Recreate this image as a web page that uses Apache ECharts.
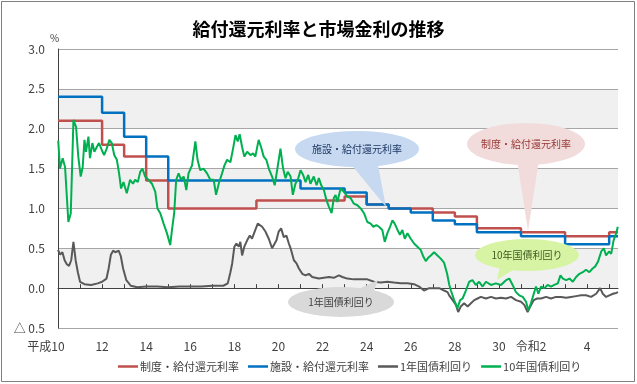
<!DOCTYPE html>
<html><head><meta charset="utf-8">
<script src="https://cdn.jsdelivr.net/npm/echarts@6/dist/echarts.min.js"></script>
<style>html,body{margin:0;padding:0;background:#fff}#c{width:637px;height:384px}</style>
</head><body><div id="c"></div>
<script>
// Fiscal years (平成) at which the rates are reset
const fiscalYears = [10,11,12,13,14,15,16,17,18,19,20,21,22,23,24,25,26,27,28,29,30,31,32,33,34,35];
const seidoRate  = [2.1,2.1,1.8,1.65,1.35,1.0,1.0,1.0,1.0,1.1,1.1,1.1,1.1,1.15,1.05,1.0,1.0,0.95,0.9,0.75,0.75,0.7,0.7,0.65,0.65,0.7];
const shisetsuRate = [2.4,2.4,2.2,1.9,1.65,1.35,1.35,1.35,1.35,1.35,1.35,1.25,1.25,1.2,1.05,1.0,0.95,0.85,0.8,0.7,0.7,0.65,0.65,0.55,0.55,0.65];
const periodEnd = 35.4;
// x tick labels
const tickYears = [10,12,14,16,18,20,22,24,26,28,30,32,34];
const tickLabels = ['平成10','12','14','16','18','20','22','24','26','28','30','令和2','4'];
// 1年国債利回り [fiscal year, %]
const jgb1 = [[10.0,0.48],[10.1,0.42],[10.2,0.45],[10.3,0.35],[10.4,0.3],[10.5,0.28],[10.6,0.35],[10.7,0.58],[10.8,0.35],[10.9,0.2],[11.0,0.08],[11.2,0.05],[11.5,0.04],[11.8,0.06],[12.0,0.08],[12.2,0.12],[12.3,0.25],[12.4,0.42],[12.5,0.47],[12.6,0.45],[12.75,0.47],[12.85,0.4],[12.95,0.25],[13.1,0.1],[13.3,0.03],[13.6,0.01],[14.0,0.02],[14.5,0.02],[15.0,0.01],[15.5,0.02],[16.0,0.02],[16.5,0.02],[17.0,0.03],[17.5,0.03],[17.7,0.06],[17.82,0.2],[17.9,0.31],[18.0,0.52],[18.09,0.56],[18.2,0.52],[18.27,0.58],[18.35,0.41],[18.45,0.52],[18.58,0.6],[18.7,0.66],[18.8,0.62],[18.95,0.73],[19.06,0.81],[19.15,0.83],[19.26,0.77],[19.41,0.71],[19.56,0.62],[19.71,0.5],[19.79,0.48],[19.91,0.6],[20.01,0.71],[20.12,0.75],[20.24,0.64],[20.36,0.66],[20.47,0.56],[20.55,0.5],[20.62,0.52],[20.7,0.35],[20.82,0.31],[20.92,0.25],[21.08,0.18],[21.23,0.16],[21.38,0.18],[21.53,0.14],[21.68,0.13],[21.83,0.12],[22.06,0.13],[22.29,0.14],[22.51,0.13],[22.74,0.16],[22.9,0.14],[23.12,0.12],[23.42,0.11],[23.73,0.11],[24.03,0.11],[24.33,0.08],[24.64,0.07],[24.94,0.08],[25.24,0.07],[25.55,0.06],[25.85,0.06],[26.15,0.05],[26.38,0.02],[26.6,-0.03],[26.83,0.0],[27.06,0.0],[27.29,0.0],[27.51,-0.03],[27.67,-0.05],[27.74,-0.09],[27.9,-0.15],[28.05,-0.21],[28.15,-0.3],[28.27,-0.23],[28.42,-0.19],[28.58,-0.23],[28.73,-0.19],[28.88,-0.15],[29.03,-0.13],[29.18,-0.11],[29.41,-0.13],[29.64,-0.11],[29.86,-0.13],[30.09,-0.12],[30.32,-0.13],[30.55,-0.11],[30.77,-0.15],[31.0,-0.17],[31.15,-0.21],[31.3,-0.3],[31.42,-0.23],[31.58,-0.15],[31.73,-0.13],[31.91,-0.13],[32.14,-0.11],[32.36,-0.13],[32.59,-0.11],[32.82,-0.11],[33.05,-0.12],[33.27,-0.11],[33.5,-0.1],[33.73,-0.09],[33.95,-0.09],[34.18,-0.11],[34.41,-0.07],[34.59,0.0],[34.71,-0.07],[34.86,-0.11],[35.01,-0.09],[35.17,-0.07],[35.32,-0.06],[35.4,-0.05]];
// 10年国債利回り [fiscal year, %]
const jgb10 = [[10.01,1.85],[10.09,1.5],[10.21,1.63],[10.32,1.52],[10.47,0.83],[10.58,0.94],[10.7,2.11],[10.82,2.02],[10.92,1.65],[11.03,1.4],[11.12,1.52],[11.2,1.86],[11.27,1.71],[11.38,1.9],[11.45,1.63],[11.56,1.82],[11.65,1.71],[11.76,1.77],[11.86,1.82],[11.99,1.73],[12.09,1.67],[12.21,1.75],[12.33,1.86],[12.44,1.82],[12.55,1.67],[12.67,1.61],[12.77,1.44],[12.86,1.25],[12.97,1.33],[13.12,1.19],[13.27,1.36],[13.4,1.31],[13.5,1.36],[13.62,1.33],[13.73,1.46],[13.83,1.5],[13.95,1.4],[14.1,1.36],[14.26,1.31],[14.41,1.21],[14.51,1.0],[14.64,0.94],[14.79,0.81],[14.94,0.69],[15.09,0.54],[15.17,0.73],[15.27,0.94],[15.36,1.36],[15.47,1.44],[15.58,1.36],[15.7,1.4],[15.82,1.23],[15.92,1.44],[16.08,1.54],[16.23,1.84],[16.33,1.61],[16.45,1.48],[16.6,1.5],[16.76,1.44],[16.91,1.36],[17.06,1.36],[17.17,1.17],[17.29,1.31],[17.44,1.44],[17.55,1.54],[17.67,1.61],[17.82,1.58],[17.94,1.75],[18.05,1.92],[18.15,1.84],[18.24,1.93],[18.35,1.77],[18.45,1.65],[18.58,1.71],[18.73,1.67],[18.85,1.69],[18.95,1.65],[19.1,1.86],[19.21,1.77],[19.33,1.65],[19.45,1.61],[19.56,1.5],[19.71,1.4],[19.83,1.29],[19.94,1.48],[20.09,1.75],[20.21,1.5],[20.32,1.38],[20.42,1.46],[20.55,1.4],[20.65,1.17],[20.77,1.31],[20.9,1.38],[21.0,1.48],[21.12,1.42],[21.23,1.33],[21.35,1.42],[21.45,1.31],[21.6,1.4],[21.73,1.29],[21.83,1.38],[21.94,1.29],[22.06,1.23],[22.18,1.1],[22.29,1.02],[22.41,0.94],[22.51,1.13],[22.59,1.17],[22.67,1.08],[22.82,1.25],[22.97,1.21],[23.12,1.15],[23.27,1.13],[23.42,1.06],[23.58,1.04],[23.73,1.0],[23.88,0.94],[24.03,0.83],[24.18,0.81],[24.3,0.77],[24.44,0.79],[24.56,0.77],[24.71,0.73],[24.82,0.58],[24.94,0.69],[25.06,0.77],[25.17,0.85],[25.27,0.81],[25.4,0.73],[25.51,0.67],[25.62,0.73],[25.73,0.62],[25.85,0.69],[26.0,0.62],[26.15,0.56],[26.3,0.52],[26.45,0.48],[26.58,0.39],[26.68,0.34],[26.79,0.38],[26.91,0.41],[27.06,0.45],[27.21,0.41],[27.36,0.37],[27.51,0.32],[27.65,0.18],[27.74,0.05],[27.82,-0.03],[27.97,-0.15],[28.12,-0.25],[28.24,-0.15],[28.35,-0.13],[28.5,-0.03],[28.65,0.08],[28.8,0.1],[28.95,0.04],[29.1,0.08],[29.26,0.02],[29.41,0.08],[29.64,0.04],[29.86,0.06],[30.09,0.04],[30.32,0.1],[30.47,0.12],[30.62,0.04],[30.77,-0.05],[30.92,-0.09],[31.08,-0.11],[31.23,-0.17],[31.33,-0.28],[31.45,-0.19],[31.58,-0.07],[31.68,0.02],[31.79,-0.07],[31.91,0.02],[32.06,0.0],[32.21,0.04],[32.36,0.02],[32.51,0.04],[32.67,0.06],[32.79,0.16],[32.9,0.12],[33.05,0.1],[33.2,0.12],[33.35,0.08],[33.5,0.14],[33.65,0.18],[33.8,0.2],[33.95,0.23],[34.1,0.2],[34.26,0.25],[34.36,0.27],[34.49,0.33],[34.64,0.46],[34.76,0.5],[34.86,0.41],[34.99,0.46],[35.09,0.43],[35.2,0.6],[35.32,0.69],[35.39,0.77]];

const FONT = '"Noto Sans CJK JP", "Noto Sans", sans-serif';
function stepData(vals){
  const d = fiscalYears.map((y,i)=>[y, vals[i]]);
  d.push([periodEnd, vals[vals.length-1]]);
  return d;
}
const chart = echarts.init(document.getElementById('c'), null, {renderer:'canvas'});
// speech-bubble annotation: ellipse (scaled circle) + tail triangle + text, tail points relative to centre
function callout(cx, cy, rx, ry, tail, fill, text, color){
  return {type:'group', x:cx, y:cy, z:100, children:[
    {type:'polygon', shape:{points:tail}, style:{fill:fill}, z:100},
    {type:'circle', shape:{cx:0, cy:0, r:rx}, scaleY:ry/rx, style:{fill:fill}, z:100},
    {type:'text', x:0, y:0, z:101, style:{text:text, x:0, y:0, align:'center', verticalAlign:'middle', fill:color, font:'10px '+FONT}}
  ]};
}
chart.setOption({
  animation:false,
  backgroundColor:'#ffffff',
  textStyle:{fontFamily:FONT},
  title:{text:'給付還元利率と市場金利の推移', left:'center', top:15,
    textStyle:{fontSize:18, fontWeight:'bold', color:'#000', fontFamily:FONT}},
  grid:{left:58, right:19, top:49, bottom:56, containLabel:false},
  legend:{bottom:7, left:113, itemGap:9, itemWidth:20, itemHeight:2.5, icon:'rect',
    textStyle:{fontSize:11, color:'#404040', fontFamily:FONT, padding:[0,0,0,-3]},
    data:['制度・給付還元利率','施設・給付還元利率','1年国債利回り','10年国債利回り']},
  xAxis:{type:'value', min:10, max:periodEnd, interval:1,
    axisLine:{show:true, lineStyle:{color:'#404040', width:1}},
    axisTick:{show:true, inside:true, length:4, lineStyle:{color:'#404040'},
      customValues:[11,12,13,14,15,16,17,18,19,20,21,22,23,24,25,26,27,28,29,30,31,32,33,34,35]},
    splitLine:{show:false},
    axisLabel:{customValues:tickYears, margin:12, fontSize:12, color:'#404040', fontFamily:FONT,
      formatter:function(v){
        const i = tickYears.indexOf(Math.round(v));
        if(i<0) return '';
        const t = tickLabels[i];
        if(t==='平成10') return '{e|平成}10{s|}';
        if(t==='令和2') return '{e|令和}2{s2|}';
        return t;
      },
      rich:{e:{fontSize:12, color:'#404040', fontFamily:FONT}, s:{width:24}, s2:{width:24}}
    }},
  yAxis:{type:'value', min:-0.5, max:3.0, interval:0.5, name:'%', nameGap:0,
    nameTextStyle:{fontSize:10, color:'#404040', align:'left', padding:[0,0,0,-8]},
    axisLine:{show:true, lineStyle:{color:'#404040'}},
    axisTick:{show:false},
    axisLabel:{fontSize:12, color:'#404040', margin:13, fontFamily:FONT,
      formatter:function(v){ return v<0 ? '△ '+Math.abs(v).toFixed(1) : v.toFixed(1); }},
    splitLine:{show:true, lineStyle:{color:'#a6a6a6', width:1}},
    splitArea:{show:true, areaStyle:{color:['#ffffff','#f0f0f0']}}},
  series:[
    {name:'制度・給付還元利率', type:'line', step:'end', data:stepData(seidoRate), symbol:'none',
      lineStyle:{width:2.5, color:'#c0504d'}, itemStyle:{color:'#c0504d'}, z:2},
    {name:'施設・給付還元利率', type:'line', step:'end', data:stepData(shisetsuRate), symbol:'none',
      lineStyle:{width:2.5, color:'#0070c0'}, itemStyle:{color:'#0070c0'}, z:3},
    {name:'1年国債利回り', type:'line', data:jgb1, symbol:'none',
      lineStyle:{width:2, color:'#595959'}, itemStyle:{color:'#595959'}, z:1},
    {name:'10年国債利回り', type:'line', data:jgb10, symbol:'none',
      lineStyle:{width:2, color:'#00b050'}, itemStyle:{color:'#00b050'}, z:4}
  ],
  graphic:[
    {type:'rect', z:200, shape:{x:1.5, y:1.5, width:633, height:380}, style:{fill:null, stroke:'#7f7f7f', lineWidth:1}},
    callout(357,149,62,18,[[-7,14],[20,11],[29,58]],'#c6d9f1','施設・給付還元利率','#1f3864'),
    callout(526,144,59,21,[[-9,16],[13,16],[2,87]],'#f2dcdb','制度・給付還元利率','#953735'),
    callout(341,302,53,15,[[11,-10],[32,-8],[37,-22]],'#d9d9d9','1年国債利回り','#404040'),
    callout(527,255,52,16,[[-27,11],[-11,13],[-30,25]],'#d7f4a5','10年国債利回り','#3d5a1e')
  ]
});
</script></body></html>
